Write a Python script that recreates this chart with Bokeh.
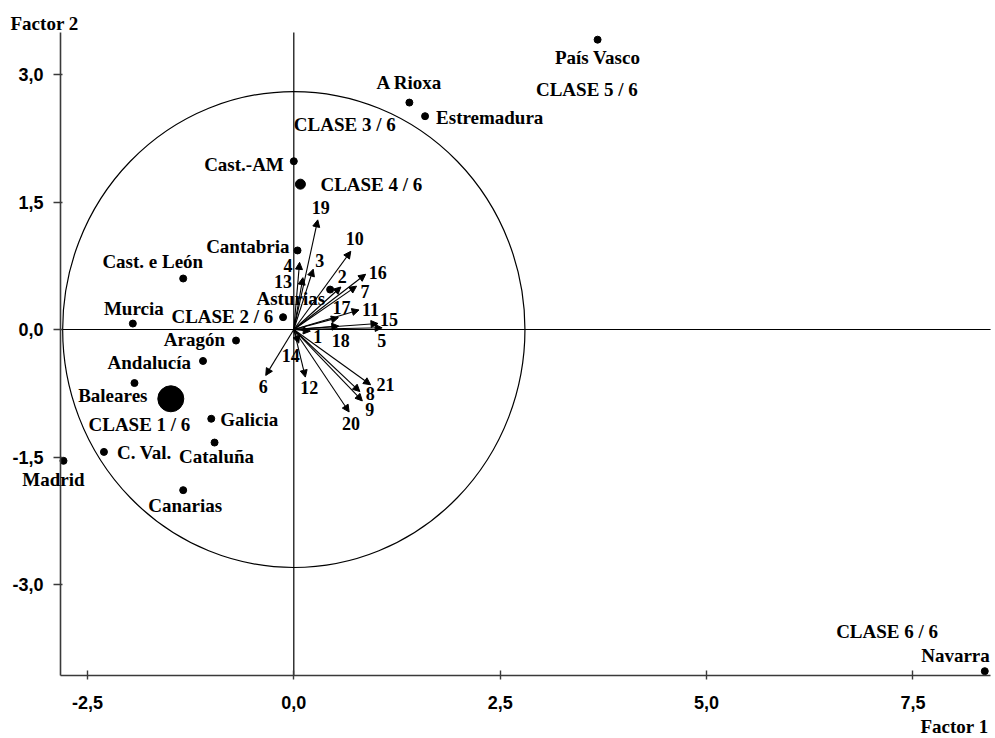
from bokeh.plotting import figure
from bokeh.models import (ColumnDataSource, Range1d, FixedTicker, Arrow,
                          NormalHead, Label, LabelSet)
from bokeh.core.properties import value
from bokeh.embed import file_html
from bokeh.resources import INLINE

# ---- data: first factorial plane -------------------------------------------
regions = ["País Vasco", "A Rioxa", "Estremadura", "Cast.-AM", "Cantabria",
           "Asturias", "Cast. e León", "Murcia", "Aragón", "Andalucía",
           "Baleares", "Galicia", "Cataluña", "C. Val.", "Madrid", "Canarias",
           "Navarra"]
region_f1 = [3.68, 1.40, 1.59, 0.00, 0.045, 0.44, -1.34, -1.95, -0.70, -1.10,
             -1.93, -1.00, -0.96, -2.30, -2.79, -1.34, 8.37]
region_f2 = [3.41, 2.67, 2.51, 1.98, 0.93, 0.47, 0.60, 0.07, -0.13, -0.37,
             -0.63, -1.05, -1.33, -1.44, -1.545, -1.89, -4.02]

classes = ["CLASE  1 / 6", "CLASE  2 / 6", "CLASE  3 / 6",
           "CLASE  4 / 6", "CLASE  5 / 6", "CLASE  6 / 6"]
class_f1 = [-1.49, -0.13, 0.00, 0.08, 3.68, 8.37]
class_f2 = [-0.815, 0.145, 1.98, 1.71, 3.41, -4.02]

variables = [str(i) for i in range(1, 22)]
var_f1 = [0.20, 0.57, 0.235, 0.07, 1.07, -0.34, 0.76, 0.80, 0.83, 0.69, 0.79,
          0.14, 0.11, 0.06, 1.02, 0.87, 0.54, 0.545, 0.29, 0.67, 0.93]
var_f2 = [-0.02, 0.50, 0.71, 0.79, 0.02, -0.54, 0.51, -0.73, -0.84, 0.92, 0.23,
          -0.56, 0.61, -0.16, 0.07, 0.65, 0.14, 0.04, 1.29, -0.97, -0.65]

circle_radius = 2.8

x_ticks = [-2.5, 0.0, 2.5, 5.0, 7.5]
x_tick_labels = ["-2,5", "0,0", "2,5", "5,0", "7,5"]
y_ticks = [-3.0, -1.5, 0.0, 1.5, 3.0]
y_tick_labels = ["-3,0", "-1,5", "0,0", "1,5", "3,0"]

# ---- label placement (pixel offsets, right/up positive) ---------------------
region_label_pos = {
    "País Vasco": (0, -24, "center"), "A Rioxa": (0, 14, "center"),
    "Estremadura": (11, -8, "left"), "Cast.-AM": (-10, -10, "right"),
    "Cantabria": (-8, -3, "right"), "Asturias": (-5, -15, "right"),
    "Cast. e León": (20, 11, "right"), "Murcia": (1, 9, "center"),
    "Aragón": (-11, -5, "right"), "Andalucía": (-12, -8, "right"),
    "Baleares": (13, -19, "right"), "Galicia": (9, -7, "left"),
    "Cataluña": (2, -20, "center"), "C. Val.": (13, -7, "left"),
    "Madrid": (-10, -25, "center"), "Canarias": (2, -22, "center"),
    "Navarra": (5, 9, "right"),
}
class_label_pos = [(-29, -32, "center"), (-5, -6, "right"), (0, 30, "left"),
                   (20, -7, "left"), (45, -56, "right"), (-42, 33, "right")]
class_dot_size = [26, 7, 0, 10, 0, 0]
var_label_pos = [(3, -12, "left"), (-3, 4, "left"), (2, 2, "left"),
                 (-7, -10, "right"), (-5, -19, "left"), (-7, -18, "left"),
                 (4, -12, "left"), (6, -8, "left"), (3, -15, "left"),
                 (-5, 6, "left"), (3, -6, "left"), (-5, -17, "left"),
                 (-11, -10, "right"), (-17, -19, "left"), (2, -2, "left"),
                 (3, -5, "left"), (-6, 4, "left"), (-7, -21, "left"),
                 (-6, 6, "left"), (-7, -18, "left"), (6, -6, "left")]

SERIF = value("Liberation Serif")

# ---- figure: the frame fills the canvas, axes sit at fixed positions --------
W, H = 995, 738
X0, X1 = -3.553, 8.500          # visible data extent, factor 1
Y0, Y1 = -4.812, 3.871          # visible data extent, factor 2
AX_LEFT, AX_RIGHT = -2.826, 8.44   # extent of the horizontal axis
AX_BOTTOM, AX_TOP = -4.071, 3.494  # extent of the vertical axis

p = figure(width=W, height=H, x_range=Range1d(X0, X1), y_range=Range1d(Y0, Y1),
           min_border=0, output_backend="svg", toolbar_location=None)
p.outline_line_color = None
p.xgrid.visible = False
p.ygrid.visible = False
p.background_fill_color = "white"
p.border_fill_color = "white"

for ax in (p.xaxis[0], p.yaxis[0]):
    ax.axis_line_color = "#3a3a3a"
    ax.axis_line_width = 1.6
    ax.major_tick_line_color = "#3a3a3a"
    ax.major_tick_line_width = 1.4
    ax.minor_tick_line_color = None
    ax.major_label_text_font = "Liberation Sans"
    ax.major_label_text_font_style = "bold"
    ax.major_label_text_font_size = "18px"
    ax.major_label_text_color = "black"

p.xaxis.fixed_location = AX_BOTTOM
p.xaxis.bounds = (AX_LEFT, AX_RIGHT)
p.xaxis.ticker = FixedTicker(ticks=x_ticks)
p.xaxis.major_label_overrides = dict(zip(x_ticks, x_tick_labels))
p.xaxis.major_tick_out = 4
p.xaxis.major_tick_in = 5
p.xaxis.major_label_standoff = 16

p.yaxis.fixed_location = AX_LEFT
p.yaxis.bounds = (AX_BOTTOM, AX_TOP)
p.yaxis.ticker = FixedTicker(ticks=y_ticks)
p.yaxis.major_label_overrides = dict(zip(y_ticks, y_tick_labels))
p.yaxis.major_tick_out = 7
p.yaxis.major_tick_in = 2
p.yaxis.major_label_standoff = 10

# axes through the origin
p.segment(x0=[0, AX_LEFT], y0=[AX_BOTTOM, 0], x1=[0, AX_RIGHT], y1=[AX_TOP, 0],
          line_color="black", line_width=1.2)

# correlation circle
p.ellipse(x=0, y=0, width=2 * circle_radius, height=2 * circle_radius,
          fill_color=None, line_color="black", line_width=1.2)

# variable arrows
vsrc = ColumnDataSource(dict(
    x=var_f1, y=var_f2, name=variables,
    xo=[o[0] for o in var_label_pos], yo=[o[1] for o in var_label_pos],
    al=[o[2] for o in var_label_pos]))
p.add_layout(Arrow(x_start=0, y_start=0, x_end="x", y_end="y", source=vsrc,
                   line_color="black", line_width=1.1,
                   end=NormalHead(size=7, fill_color="black", line_color="black",
                                  line_width=1)))
p.add_layout(LabelSet(x="x", y="y", text="name", source=vsrc,
                      x_offset="xo", y_offset="yo", text_align="al",
                      text_baseline="alphabetic", text_font=SERIF,
                      text_font_style="bold", text_font_size="18px",
                      text_color="black"))

# regions
rsrc = ColumnDataSource(dict(
    x=region_f1, y=region_f2, name=regions,
    xo=[region_label_pos[r][0] for r in regions],
    yo=[region_label_pos[r][1] for r in regions],
    al=[region_label_pos[r][2] for r in regions]))
p.scatter("x", "y", source=rsrc, size=7, color="black")
p.add_layout(LabelSet(x="x", y="y", text="name", source=rsrc,
                      x_offset="xo", y_offset="yo", text_align="al",
                      text_baseline="alphabetic", text_font=SERIF,
                      text_font_style="bold", text_font_size="19px",
                      text_color="black"))

# class centres
csrc = ColumnDataSource(dict(
    x=class_f1, y=class_f2, name=classes, size=class_dot_size,
    xo=[o[0] for o in class_label_pos], yo=[o[1] for o in class_label_pos],
    al=[o[2] for o in class_label_pos]))
p.scatter("x", "y", source=csrc, size="size", color="black")
p.add_layout(LabelSet(x="x", y="y", text="name", source=csrc,
                      x_offset="xo", y_offset="yo", text_align="al",
                      text_baseline="alphabetic", text_font=SERIF,
                      text_font_style="bold", text_font_size="19px",
                      text_color="black"))

# axis titles at the ends of the axes
p.add_layout(Label(x=AX_LEFT, y=AX_TOP, x_offset=-50, y_offset=9,
                   text="Factor 2", text_align="left",
                   text_baseline="alphabetic", text_font="Liberation Serif",
                   text_font_style="bold", text_font_size="19px",
                   text_color="black"))
p.add_layout(Label(x=AX_RIGHT, y=AX_BOTTOM, x_offset=-2, y_offset=-51,
                   text="Factor 1", text_align="right",
                   text_baseline="alphabetic", text_font="Liberation Serif",
                   text_font_style="bold", text_font_size="19px",
                   text_color="black"))

open("out.html", "w").write(file_html(p, INLINE))
